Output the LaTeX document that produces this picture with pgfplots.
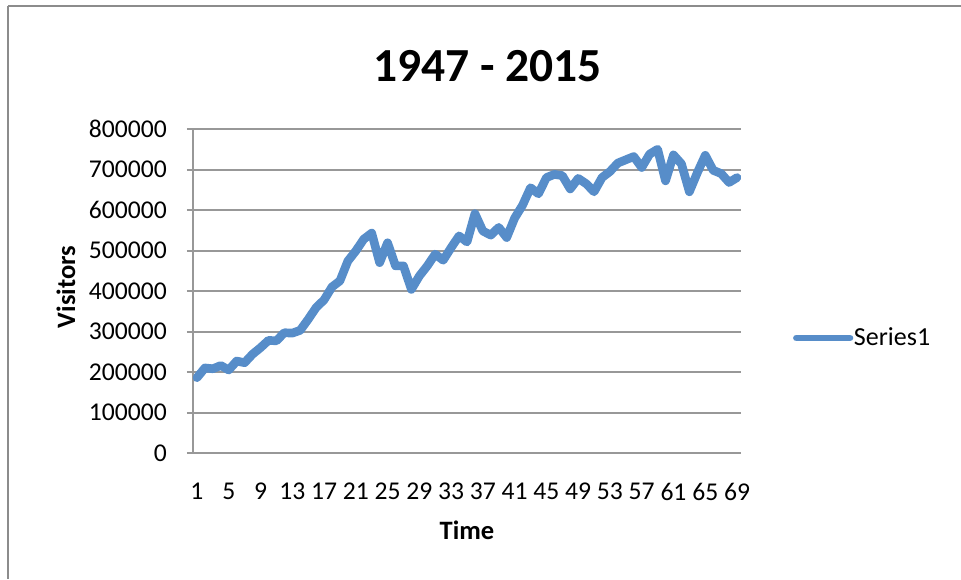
\documentclass[border=0pt]{standalone}
\usepackage{pgfplots}
\pgfplotsset{compat=1.18}
\usepackage{fontspec}
\setmainfont{Carlito}
\definecolor{ser}{RGB}{87,141,201}
\definecolor{gridc}{RGB}{152,152,152}
\definecolor{framec}{RGB}{140,140,140}
\pgfplotstableread{
x y
1 186000
2 210000
3 208000
4 216000
5 205000
6 227000
7 223000
8 244000
9 260000
10 278000
11 277000
12 297000
13 296000
14 303000
15 330000
16 359000
17 378000
18 410000
19 425000
20 474000
21 499000
22 528000
23 543000
24 470000
25 519000
26 462000
27 462000
28 404000
29 437000
30 462000
31 491000
32 476000
33 507000
34 536000
35 521000
36 591000
37 548000
38 538000
39 557000
40 532000
41 580000
42 612000
43 655000
44 640000
45 680000
46 688000
47 685000
48 652000
49 678000
50 665000
51 645000
52 680000
53 695000
54 716000
55 724000
56 732000
57 705000
58 738000
59 750000
60 672000
61 736000
62 714000
63 645000
64 692000
65 735000
66 698000
67 690000
68 668000
69 680000
}\visitors
\begin{document}
\begin{tikzpicture}[x=0.75pt,y=0.75pt]
\path[use as bounding box] (0,0) rectangle (961,579);
\draw[framec, line width=1.9pt] (8,573) -- (961,573);
\draw[framec, line width=1.9pt] (8,573) -- (8,0);
\begin{axis}[
  at={(144.75pt,94.5pt)}, anchor=south west,
  scale only axis, width=411pt, height=243pt,
  xmin=0.5, xmax=69.5, ymin=0, ymax=800000,
  xtick={1,5,...,69}, ytick={0,100000,...,800000},
  scaled y ticks=false,
  axis x line*=bottom, axis y line*=left,
  axis line style={gridc, line width=1.5pt},
  ymajorgrids, major grid style={gridc, line width=1.5pt},
  tick align=outside, major tick length=4.5pt,
  ytick style={draw=gridc, line width=1.5pt},
  xtick style={draw=none},
  ticklabel style={font=\fontsize{19.2pt}{23pt}\selectfont},
  /pgf/number format/assume math mode=true,
  /pgf/number format/1000 sep={},
  /pgf/number format/fixed,
  yticklabel style={anchor=east, inner sep=0pt, xshift=-15pt},
  xticklabel style={anchor=north, inner sep=0pt, yshift=-18pt},
  legend style={at={(rel axis cs:1.095,0.355)}, anchor=west, draw=none, fill=none,
    inner sep=0pt, outer sep=0pt, font=\fontsize{19.5pt}{23pt}\selectfont,
    nodes={inner sep=0.5pt}},
  legend cell align=left,
  legend image code/.code={\draw[#1, line width=5.2pt, line cap=round] (2.5pt,0pt) -- (42.5pt,0pt);},
]
\addplot[ser, line width=6.5pt, line join=round, line cap=round] table[x=x,y=y] {\visitors};
\addlegendentry{Series1}
\end{axis}
\node[font=\fontsize{35.6pt}{40pt}\selectfont\bfseries, inner sep=0pt] at (487.5,513) {1947 - 2015};
\node[rotate=90, font=\fontsize{19.9pt}{24pt}\selectfont\bfseries, inner sep=0pt] at (66,292) {Visitors};
\node[font=\fontsize{19.9pt}{24pt}\selectfont\bfseries, inner sep=0pt] at (467,49) {Time};
\end{tikzpicture}
\end{document}
